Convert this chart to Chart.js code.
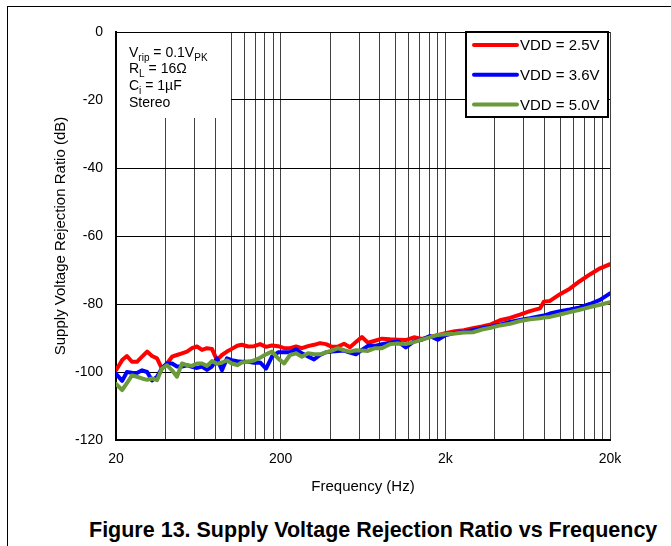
<!DOCTYPE html>
<html>
<head>
<meta charset="utf-8">
<script src="https://cdn.jsdelivr.net/npm/chart.js@4/dist/chart.umd.min.js"></script>
<style>
html,body{margin:0;padding:0;background:#fff;}
body{width:671px;height:546px;position:relative;overflow:hidden;font-family:"Liberation Sans",Arial,sans-serif;}
#frame{position:absolute;left:7px;top:6px;width:664px;height:540px;border-top:1px solid #000;border-left:1px solid #000;}
#wrap{position:absolute;left:0;top:0;width:671px;height:500px;}
#caption{position:absolute;left:89px;top:520px;font-weight:bold;font-size:21.5px;line-height:21.5px;white-space:nowrap;color:#000;}
</style>
</head>
<body>
<div id="frame"></div>
<div id="wrap"><canvas id="c" width="671" height="500"></canvas></div>
<div id="caption">Figure 13. Supply Voltage Rejection Ratio vs Frequency</div>
<script>
// ---- data ----
const freqHz = [20, 21.8, 23.3, 25, 26.8, 28.8, 30.9, 33.1, 35.5, 38, 40.8, 43.8, 46.9, 50.3, 54, 57.9, 62.1, 66.6, 71.4, 76.5, 82.1, 88, 94.4, 101, 109, 116, 127, 138, 150, 163, 177, 193, 210, 228, 248, 269, 293, 319, 347, 377, 410, 446, 485, 527, 573, 623, 678, 748, 824, 922, 1030, 1150, 1290, 1440, 1610, 1800, 2000, 2290, 2590, 2940, 3340, 3780, 4290, 4940, 5680, 6530, 7510, 7940, 8640, 9940, 11400, 13100, 15100, 17400, 20000];
const vdd25 = [-99.5, -96.5, -95.3, -97, -97, -95.5, -94, -95.3, -96, -99, -97.5, -95.5, -95, -94.5, -94, -93, -92.5, -93.5, -93, -93.2, -96.5, -95, -94, -93.2, -92.3, -92, -92.5, -92.4, -91.8, -92.6, -92.2, -92.4, -93, -93, -92.5, -93, -92.4, -92, -91.5, -91.8, -92.6, -92.5, -91.7, -92.7, -91.2, -89.7, -91.4, -90.8, -90.2, -90.4, -90.5, -90.6, -89.8, -90.3, -89.7, -89.2, -88.6, -88, -87.7, -87.1, -86.6, -86, -84.8, -84.1, -83.1, -82.1, -81.3, -79.3, -79.1, -77.1, -75.5, -73.3, -71.3, -69.5, -68.3];
const vdd36 = [-100.5, -102.6, -100, -100.2, -100.3, -99.5, -100, -102.5, -101.4, -98.9, -97.5, -97.5, -98.4, -98.4, -98, -98.5, -98.8, -98.4, -99.4, -98.4, -96, -99.5, -96, -96.5, -96.8, -97, -97, -97.3, -97.2, -99, -95.5, -94.2, -94.2, -94.2, -93.3, -94.5, -95.4, -96.3, -95, -94.2, -94, -93.8, -93.7, -94.3, -94.8, -93.5, -92.3, -92.3, -91.8, -91.4, -91, -92.8, -91, -90.5, -89.4, -90.5, -89.2, -88.5, -88.2, -87.7, -87.1, -86.7, -86.1, -85.3, -84.7, -84.2, -83.6, -83.4, -82.8, -82.1, -81.6, -81, -80, -78.8, -76.9];
const vdd50 = [-103.5, -105.3, -103.3, -101, -101.4, -101.9, -102.3, -101.9, -102.4, -99, -98, -99.5, -101.4, -97.5, -98, -98.2, -97.5, -97.5, -98.2, -96.8, -97.6, -97.2, -96.6, -97.5, -98, -97.2, -97, -96.6, -95.8, -94.8, -94, -96, -97.5, -95, -94.5, -95.5, -94.5, -94.8, -94.8, -94.2, -93.7, -93, -93.6, -94, -93.6, -93.7, -93.8, -93, -93, -91.8, -91.6, -91.8, -91.2, -90.5, -89.8, -89.1, -88.9, -88.7, -88.4, -88.3, -87.5, -87, -86.3, -85.8, -85, -84.5, -84.2, -84, -83.8, -83.1, -82.4, -81.7, -80.9, -80.2, -79.5];
const seriesNames = ['VDD = 2.5V', 'VDD = 3.6V', 'VDD = 5.0V'];
const seriesColors = ['#ff0000', '#0000ff', '#6b9a3b'];
const xGridValues = [20, 40, 60, 80, 100, 120, 140, 160, 180, 200, 400, 600, 800, 1000, 1200, 1400, 1600, 1800, 2000, 4000, 6000, 8000, 10000, 12000, 14000, 16000, 18000, 20000];
const xLabelValues = [20, 200, 2000, 20000];
const xLabelTexts = ['20', '200', '2k', '20k'];
const yMin = -120, yMax = 0, yStep = 20;

Chart.defaults.font.family = '"Liberation Sans", Arial, sans-serif';
Chart.defaults.color = '#000';

function toPoints(vals){ return freqHz.map((f, i) => ({x: f, y: vals[i]})); }

function drawRich(ctx, x, baseline, parts){
  let cx = x;
  for (const [txt, kind] of parts){
    if (kind === 's'){ ctx.font = '10px "Liberation Sans", Arial, sans-serif'; ctx.fillText(txt, cx, baseline + 4); }
    else { ctx.font = '14px "Liberation Sans", Arial, sans-serif'; ctx.fillText(txt, cx, baseline); }
    cx += ctx.measureText(txt).width;
  }
}

const boxes = {
  id: 'boxes',
  beforeDatasetsDraw(chart){
    const {ctx, chartArea, scales} = chart;
    ctx.save();
    const aL = chartArea.left + 1, aT = chartArea.top + 1;
    const aR = Math.floor(scales.x.getPixelForValue(100));
    const aB = aT + 85;
    ctx.fillStyle = '#fff';
    ctx.fillRect(aL, aT, aR - aL, aB - aT);
    ctx.fillStyle = '#000';
    ctx.textBaseline = 'alphabetic';
    ctx.textAlign = 'left';
    const tx = chartArea.left + 13;
    drawRich(ctx, tx, chartArea.top + 25, [['V','n'],['rip','s'],[' = 0.1V','n'],['PK','s']]);
    drawRich(ctx, tx, chartArea.top + 41, [['R','n'],['L','s'],[' = 16\u03A9','n']]);
    drawRich(ctx, tx, chartArea.top + 57.5, [['C','n'],['i','s'],[' = 1\u00B5F','n']]);
    drawRich(ctx, tx, chartArea.top + 74.5, [['Stereo','n']]);
    ctx.restore();
  },
  afterDatasetsDraw(chart){
    const {ctx, chartArea} = chart;
    ctx.save();
    const bw = 144, bh = 87;
    const bx = chartArea.right - 145, by = chartArea.top - 1;
    ctx.fillStyle = '#fff';
    ctx.fillRect(bx, by, bw, bh);
    ctx.strokeStyle = '#000';
    ctx.lineWidth = 2;
    ctx.strokeRect(bx + 1, by + 1, bw - 2, bh - 2);
    ctx.font = '15px "Liberation Sans", Arial, sans-serif';
    ctx.textBaseline = 'middle';
    ctx.textAlign = 'left';
    chart.data.datasets.forEach((ds, i) => {
      const ly = by + 14 + i * 29.7;
      ctx.strokeStyle = ds.borderColor;
      ctx.lineWidth = 4;
      ctx.lineCap = 'round';
      ctx.beginPath(); ctx.moveTo(bx + 9, ly); ctx.lineTo(bx + 52, ly); ctx.stroke();
      ctx.fillStyle = '#000';
      ctx.fillText(ds.label, bx + 55, ly + 1);
    });
    ctx.restore();
  }
};

const mk = (i, vals, order) => ({
  label: seriesNames[i], data: toPoints(vals), borderColor: seriesColors[i], backgroundColor: seriesColors[i],
  borderWidth: 4, pointRadius: 0, tension: 0, fill: false, order: order,
  borderJoinStyle: 'round', borderCapStyle: 'round'
});

new Chart(document.getElementById('c'), {
  type: 'line',
  data: { datasets: [ mk(0, vdd25, 2), mk(1, vdd36, 1), mk(2, vdd50, 0) ] },
  options: {
    responsive: false, animation: false, devicePixelRatio: 1,
    layout: { padding: { left: 0, top: 32, right: 61, bottom: 0 } },
    plugins: { legend: { display: false }, tooltip: { enabled: false } },
    scales: {
      x: {
        type: 'logarithmic', min: 20, max: 20000,
        afterBuildTicks(s){ s.ticks = xGridValues.map(v => ({value: v})); },
        ticks: { autoSkip: false, maxRotation: 0, minRotation: 0, padding: 11, color: '#000', font: { size: 14 },
          callback(v){ const i = xLabelValues.indexOf(v); return i >= 0 ? xLabelTexts[i] : ''; } },
        grid: { color: '#404040', lineWidth: 1, drawTicks: false },
        border: { display: true, color: '#000', width: 2 },
        title: { display: true, text: 'Frequency (Hz)', color: '#000', font: { size: 15 }, padding: { top: 0, bottom: 4 } },
        afterFit(s){ s.height = 60; }
      },
      y: {
        type: 'linear', min: yMin, max: yMax,
        ticks: { stepSize: yStep, padding: 13, color: '#000', font: { size: 14 } },
        grid: { color: '#000', lineWidth: 1, drawTicks: false },
        border: { display: true, color: '#000', width: 2 },
        title: { display: true, text: 'Supply Voltage Rejection Ratio (dB)', color: '#000', font: { size: 15 }, padding: { top: 52, bottom: 0 } },
        afterFit(s){ s.width = 116; }
      }
    }
  },
  plugins: [boxes]
});
</script>
</body>
</html>
